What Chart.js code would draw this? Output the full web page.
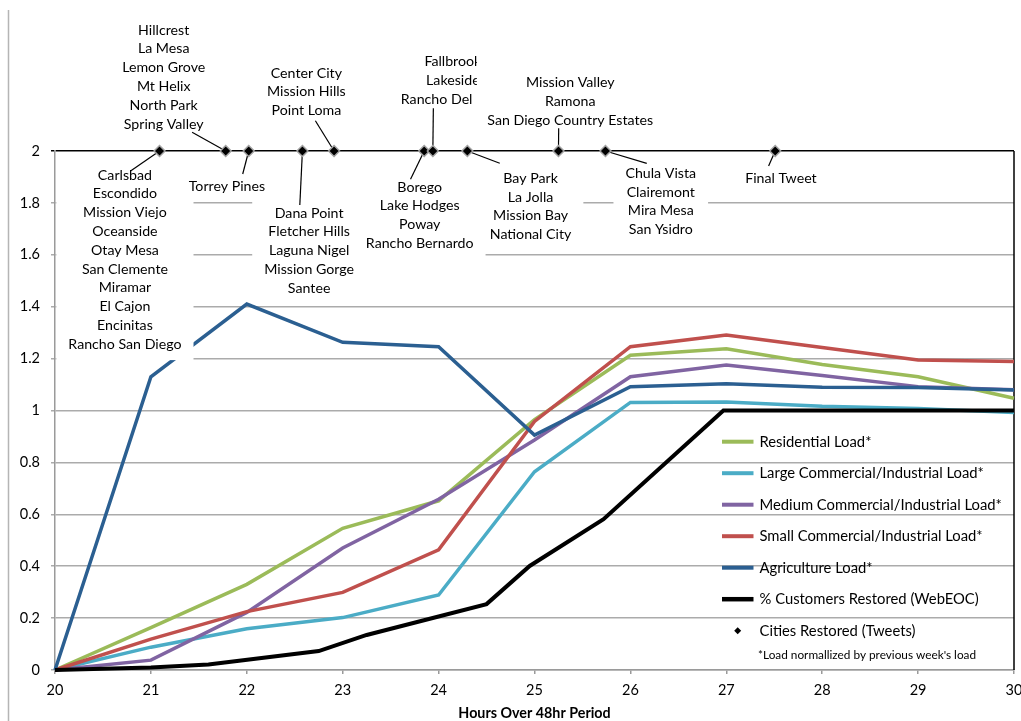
<!DOCTYPE html>
<html>
<head>
<meta charset="utf-8">
<script src="https://cdn.jsdelivr.net/npm/chart.js@4.4.1/dist/chart.umd.min.js"></script>
<style>
  html, body { margin: 0; padding: 0; background: #fff; overflow: hidden; }
  #wrap { position: relative; width: 1021px; height: 721px; }
</style>
</head>
<body>
<div id="wrap"><canvas id="c" width="1021" height="721"></canvas></div>
<script>
// Hourly load, normalized by the previous week's load
const hours = [20, 21, 22, 23, 24, 25, 26, 27, 28, 29, 30];
const residentialLoad = [0, 0.163, 0.330, 0.546, 0.652, 0.965, 1.213, 1.238, 1.177, 1.130, 1.047];
const largeCILoad     = [0, 0.088, 0.159, 0.202, 0.289, 0.764, 1.031, 1.033, 1.016, 1.008, 0.992];
const mediumCILoad    = [0, 0.038, 0.222, 0.470, 0.658, 0.886, 1.130, 1.175, 1.135, 1.092, 1.080];
const smallCILoad     = [0, 0.119, 0.225, 0.299, 0.463, 0.958, 1.246, 1.291, 1.243, 1.195, 1.189];
const agricultureLoad = [0, 1.130, 1.410, 1.263, 1.246, 0.905, 1.092, 1.103, 1.090, 1.089, 1.079];

// Share of customers restored (WebEOC reports)
const customerHours     = [20, 21, 21.6, 22.75, 23.25, 24, 24.5, 24.95, 25.72, 26.97, 30];
const customersRestored = [0, 0.010, 0.021, 0.073, 0.135, 0.206, 0.254, 0.401, 0.581, 1.0, 1.0];

// Restoration tweets: time, plotted level and the cities named
const tweetHours  = [21.09, 21.78, 22.02, 22.58, 22.91, 23.85, 23.94, 24.30, 25.25, 25.74, 27.51];
const tweetLevels = [2, 2, 2, 2, 2, 2, 2, 2, 2, 2, 2];
const tweetCities = [
  ['Carlsbad', 'Escondido', 'Mission Viejo', 'Oceanside', 'Otay Mesa', 'San Clemente', 'Miramar', 'El Cajon', 'Encinitas', 'Rancho San Diego'],
  ['Hillcrest', 'La Mesa', 'Lemon Grove', 'Mt Helix', 'North Park', 'Spring Valley'],
  ['Torrey Pines'],
  ['Dana Point', 'Fletcher Hills', 'Laguna Nigel', 'Mission Gorge', 'Santee'],
  ['Center City', 'Mission Hills', 'Point Loma'],
  ['Borego', 'Lake Hodges', 'Poway', 'Rancho Bernardo'],
  ['Fallbrook', 'Lakeside', 'Rancho Del'],
  ['Bay Park', 'La Jolla', 'Mission Bay', 'National City'],
  ['Mission Valley', 'Ramona', 'San Diego Country Estates'],
  ['Chula Vista', 'Clairemont', 'Mira Mesa', 'San Ysidro'],
  ['Final Tweet']
];

const seriesNames = [
  'Residential Load*',
  'Large Commercial/Industrial Load*',
  'Medium Commercial/Industrial Load*',
  'Small Commercial/Industrial Load*',
  'Agriculture Load*',
  '% Customers Restored (WebEOC)',
  'Cities Restored (Tweets)'
];
const footnote = "*Load normallized by previous week's load";
const xTitle = 'Hours Over 48hr Period';
const yTicks = { min: 0, max: 2, step: 0.2 };
const xTicks = { min: 20, max: 30, step: 1 };

// Callout placement (pixels, relative to each diamond): text centre, first line, leader end
const calloutLayout = [
  { dx: -34.6, dy: 24,    lead: [-28.6, 19.7] },
  { dx: -62,   dy: -121,  lead: [-33.6, -18.7] },
  { dx: -21.8, dy: 35,    lead: [-6, 23] },
  { dx: 6.7,   dy: 62,    lead: [-2.6, 54] },
  { dx: -27.7, dy: -78,   lead: [-18.7, -30.3] },
  { dx: -4.5,  dy: 36,    lead: [-13.7, 28.3] },
  { dx: 20,    dy: -89.5, lead: [0.5, -42.7], lineDx: [0, 0, -16.2], clipRight: 44 },
  { dx: 63.2,  dy: 27.3,  lead: [32.4, 12.3] },
  { dx: 11.8,  dy: -68.3, lead: [0.2, -22.7] },
  { dx: 55.3,  dy: 22.3,  lead: [41.3, 12.3] },
  { dx: 5.7,   dy: 27.3,  lead: [-6.6, 15] }
];

const FONT = 'Lato, "Open Sans", sans-serif';
const LINE_H = 18.8;
const TEXT = '#000';
const GRID = '#ababab';
const colors = ['#9BBB59', '#4BACC6', '#8064A2', '#C0504D', '#2B5F91', '#000000', '#000000'];

const zip = (xs, ys) => xs.map((x, i) => ({ x, y: ys[i] }));
const loadSeries = [residentialLoad, largeCILoad, mediumCILoad, smallCILoad, agricultureLoad];

const datasets = loadSeries.map((vals, i) => ({
  label: seriesNames[i],
  data: zip(hours, vals),
  borderColor: colors[i],
  borderWidth: 3.5,
  pointRadius: 0,
  tension: 0,
  clip: false,
  order: 6 - i
}));
datasets.push({
  label: seriesNames[5],
  data: zip(customerHours, customersRestored),
  borderColor: colors[5],
  borderWidth: 4,
  pointRadius: 0,
  tension: 0,
  clip: false,
  order: 1
});
datasets.push({
  label: seriesNames[6],
  data: zip(tweetHours, tweetLevels),
  showLine: false,
  pointStyle: 'rectRot',
  pointRadius: 5.5,
  pointBorderWidth: 1.5,
  pointBackgroundColor: '#000',
  pointBorderColor: '#a3a3a3',
  clip: false,
  order: 0
});
const TWEET_INDEX = datasets.length - 1;

// City callouts: white boxes over the grid and lines, text, then leader lines
const callouts = {
  id: 'callouts',
  beforeDatasetDraw(chart, args) {
    if (args.index !== TWEET_INDEX) return;
    const ctx = chart.ctx;
    const pts = args.meta.data;
    ctx.save();
    ctx.font = `14.2px ${FONT}`;
    ctx.textAlign = 'center';
    ctx.textBaseline = 'middle';
    const boxes = pts.map((pt, i) => {
      const lay = calloutLayout[i];
      const lines = tweetCities[i];
      const cx = pt.x + lay.dx;
      const cy = pt.y + lay.dy;
      const centers = lines.map((s, k) => cx + (lay.lineDx ? lay.lineDx[k] : 0));
      let minX = Infinity, maxX = -Infinity;
      lines.forEach((s, k) => {
        const w = ctx.measureText(s).width;
        minX = Math.min(minX, centers[k] - w / 2);
        maxX = Math.max(maxX, centers[k] + w / 2);
      });
      let left = minX - 12, right = maxX + 12;
      if (lay.clipRight != null) right = pt.x + lay.clipRight;
      const top = cy - LINE_H / 2 - 5;
      const bottom = cy + (lines.length - 1) * LINE_H + LINE_H / 2 + 6.5;
      return { pt, lay, lines, centers, cy, left, right, top, bottom };
    });
    ctx.fillStyle = '#fff';
    boxes.forEach(b => ctx.fillRect(b.left, b.top, b.right - b.left, b.bottom - b.top));
    ctx.fillStyle = TEXT;
    boxes.forEach(b => {
      ctx.save();
      ctx.beginPath();
      ctx.rect(b.left, b.top, b.right - b.left, b.bottom - b.top);
      ctx.clip();
      b.lines.forEach((s, k) => ctx.fillText(s, b.centers[k], b.cy + k * LINE_H));
      ctx.restore();
    });
    ctx.strokeStyle = '#000';
    ctx.lineWidth = 1.2;
    boxes.forEach(b => {
      ctx.beginPath();
      ctx.moveTo(b.pt.x, b.pt.y);
      ctx.lineTo(b.pt.x + b.lay.lead[0], b.pt.y + b.lay.lead[1]);
      ctx.stroke();
    });
    ctx.restore();
  }
};

// Plot-area frame: black right edge, grey outer edge on the left
const frame = {
  id: 'frame',
  beforeDatasetsDraw(chart) {
    const { ctx, chartArea: a } = chart;
    ctx.save();
    ctx.strokeStyle = '#000';
    ctx.lineWidth = 1.5;
    ctx.beginPath();
    ctx.moveTo(a.right, a.top);
    ctx.lineTo(a.right, a.bottom);
    ctx.stroke();
    ctx.strokeStyle = '#b5b5b5';
    ctx.beginPath();
    ctx.moveTo(8.5, 10);
    ctx.lineTo(8.5, chart.height);
    ctx.stroke();
    ctx.restore();
  }
};

// Legend drawn inside the plot area, lower right
const insideLegend = {
  id: 'insideLegend',
  afterDraw(chart) {
    const { ctx, chartArea: a } = chart;
    const x0 = a.right - 292;
    const y0 = a.bottom - 228.3;
    const step = 31.5;
    ctx.save();
    ctx.textAlign = 'left';
    ctx.textBaseline = 'middle';
    ctx.font = `14.8px ${FONT}`;
    chart.data.datasets.forEach((ds, i) => {
      const y = y0 + i * step;
      if (ds.showLine === false) {
        const r = 3.5, cx = x0 + 15.7;
        ctx.fillStyle = '#000';
        ctx.beginPath();
        ctx.moveTo(cx, y - r); ctx.lineTo(cx + r, y); ctx.lineTo(cx, y + r); ctx.lineTo(cx - r, y);
        ctx.closePath();
        ctx.fill();
      } else {
        ctx.strokeStyle = ds.borderColor;
        ctx.lineWidth = ds.borderWidth + 0.5;
        ctx.beginPath();
        ctx.moveTo(x0, y);
        ctx.lineTo(x0 + 31.5, y);
        ctx.stroke();
      }
      ctx.fillStyle = TEXT;
      ctx.fillText(ds.label, x0 + 37.5, y + 0.5);
    });
    ctx.font = `11.8px ${FONT}`;
    ctx.fillText(footnote, x0 + 36, y0 + 213.3);
    ctx.restore();
  }
};

Chart.defaults.font.family = FONT;
Chart.defaults.font.size = 14;
Chart.defaults.color = TEXT;

new Chart(document.getElementById('c'), {
  type: 'line',
  data: { datasets },
  options: {
    responsive: false,
    animation: false,
    events: [],
    layout: { padding: { left: 8, top: 151, right: 2, bottom: 0 } },
    plugins: { legend: { display: false }, tooltip: { enabled: false } },
    scales: {
      x: {
        type: 'linear',
        min: xTicks.min,
        max: xTicks.max,
        ticks: { stepSize: xTicks.step, padding: 8, color: TEXT, font: { size: 14.5 } },
        grid: { drawOnChartArea: false, drawTicks: true, tickLength: 4, color: '#9a9a9a', lineWidth: 1.5 },
        border: { color: '#9a9a9a', width: 1.5 },
        title: {
          display: true,
          text: xTitle,
          color: '#000',
          padding: 0,
          font: { size: 14.3, weight: 'bold', lineHeight: 1 }
        },
        afterFit(s) { s.height = 51; s.paddingLeft = 0; s.paddingRight = 0; }
      },
      y: {
        min: yTicks.min,
        max: yTicks.max,
        ticks: {
          stepSize: yTicks.step,
          padding: 11,
          color: TEXT,
          font: { size: 14.5 },
          callback: v => String(Number(v.toFixed(1)))
        },
        grid: {
          color: c => (c.tick && c.tick.value === yTicks.max ? '#000' : GRID),
          lineWidth: 1.5,
          tickLength: 4
        },
        border: { color: '#9a9a9a', width: 1.5 },
        afterFit(s) { s.width = 47; }
      }
    }
  },
  plugins: [frame, callouts, insideLegend]
});
</script>
</body>
</html>
